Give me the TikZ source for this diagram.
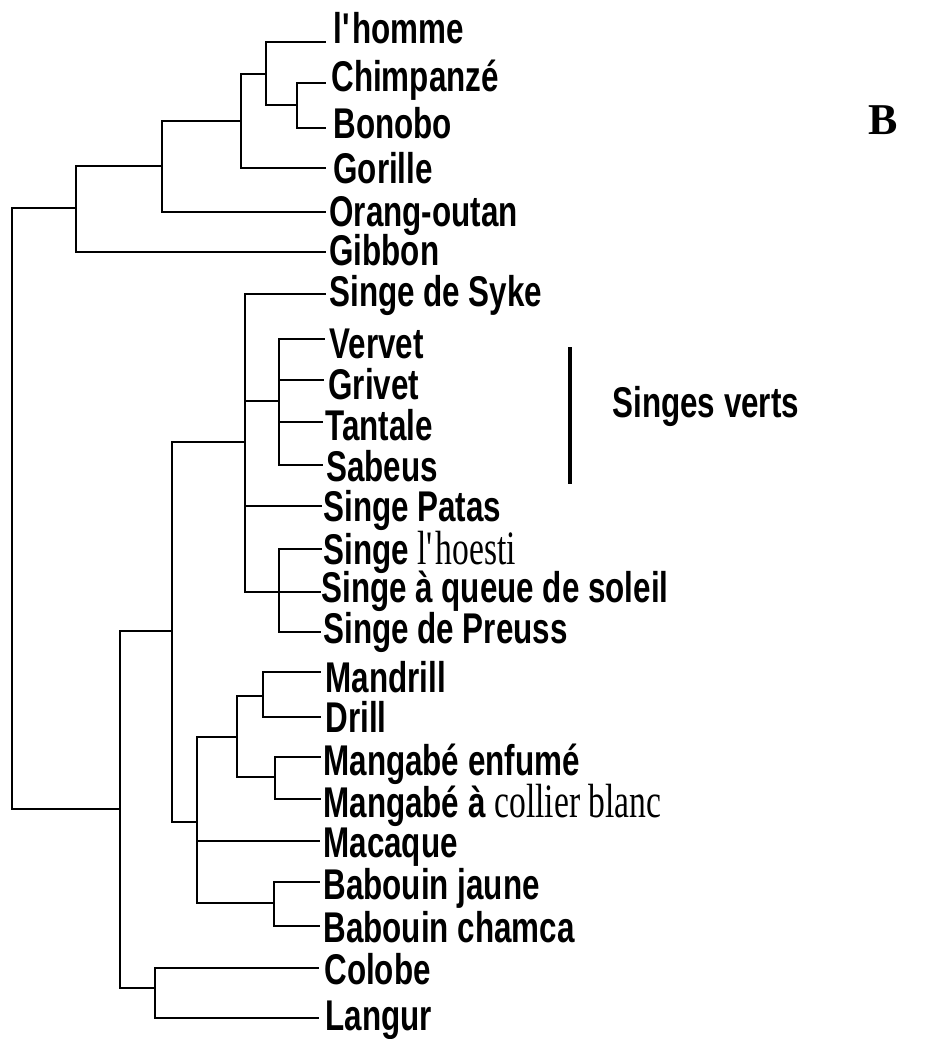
\documentclass[tikz,border=0pt]{standalone}
\usepackage{fontspec}
\setmainfont{Liberation Serif}
\newfontfamily\labsans{Liberation Sans}[FakeStretch=0.73]
\newfontfamily\labserif{Liberation Serif}[FakeStretch=0.7]

% serif words inside the labels
\newcommand{\serifpart}[1]{{\labserif\mdseries\fontsize{24}{26}\selectfont #1}}

\begin{document}
\begin{tikzpicture}[
    x=0.5pt, y=-0.5pt, % one unit = one pixel of the scan
    branch/.style={line width=1.35pt, line cap=rect}, % tree branches
    bar/.style={line width=1.6pt}, % bracket of the green monkeys
    taxon/.style={anchor=base west, inner sep=0pt, font=\labsans\bfseries\fontsize{21.5}{26}\selectfont} % leaf labels
]
    \useasboundingbox (0,0) rectangle (945,1039);

    % Leaf tips
    \coordinate (homme)    at (325,42);
    \coordinate (chimp)    at (325,83);
    \coordinate (bonobo)   at (325,128);
    \coordinate (gorille)  at (325,168);
    \coordinate (orang)    at (325,212);
    \coordinate (gibbon)   at (325,252);
    \coordinate (syke)     at (325,294);
    \coordinate (vervet)   at (324,339);
    \coordinate (grivet)   at (323,380);
    \coordinate (tantale)  at (322,422);
    \coordinate (sabeus)   at (322,465);
    \coordinate (patas)    at (321,506);
    \coordinate (hoesti)   at (321,549);
    \coordinate (queue)    at (320,592);
    \coordinate (preuss)   at (320,632);
    \coordinate (mandrill) at (320,672);
    \coordinate (drill)    at (320,717);
    \coordinate (enfume)   at (320,757);
    \coordinate (collier)  at (320,799);
    \coordinate (macaque)  at (319,841);
    \coordinate (bjaune)   at (319,882);
    \coordinate (chamca)   at (319,926);
    \coordinate (colobe)   at (318,968);
    \coordinate (langur)   at (318,1018);

    % Inner nodes of the tree
    \coordinate (pan)     at (297,105);
    \coordinate (hc)      at (266,74);
    \coordinate (hcg)     at (241,121);
    \coordinate (hom)     at (162,166);
    \coordinate (hoo)     at (76,208);
    \coordinate (root)    at (12,508);
    \coordinate (cerco)   at (120,809);
    \coordinate (cinae)   at (172,631);
    \coordinate (cini)    at (245,442);
    \coordinate (green)   at (279,401);
    \coordinate (hgrp)    at (279,592);
    \coordinate (papini)  at (197,822);
    \coordinate (mandmang) at (237,737);
    \coordinate (mandrs)  at (263,696);
    \coordinate (mangabe) at (275,777);
    \coordinate (papio)   at (274,903);
    \coordinate (colob)   at (155,988);

    % Hominoids
    \draw[branch] (pan) |- (chimp) (pan) |- (bonobo);
    \draw[branch] (hc) |- (homme) (hc) |- (pan);
    \draw[branch] (hcg) |- (hc) (hcg) |- (gorille);
    \draw[branch] (hom) |- (hcg) (hom) |- (orang);
    \draw[branch] (hoo) |- (hom) (hoo) |- (gibbon);
    \draw[branch] (root) |- (hoo) (root) |- (cerco);

    % Cercopithecids
    \draw[branch] (cerco) |- (cinae) (cerco) |- (colob);
    \draw[branch] (cinae) |- (cini) (cinae) |- (papini);
    \draw[branch] (cini) |- (syke) (cini) |- (green) (cini) |- (patas) (cini) |- (hgrp);
    \draw[branch] (green) |- (vervet) (green) |- (grivet) (green) |- (tantale) (green) |- (sabeus);
    \draw[branch] (hgrp) |- (hoesti) (hgrp) |- (queue) (hgrp) |- (preuss);
    \draw[branch] (papini) |- (mandmang) (papini) |- (macaque) (papini) |- (papio);
    \draw[branch] (mandmang) |- (mandrs) (mandmang) |- (mangabe);
    \draw[branch] (mandrs) |- (mandrill) (mandrs) |- (drill);
    \draw[branch] (mangabe) |- (enfume) (mangabe) |- (collier);
    \draw[branch] (papio) |- (bjaune) (papio) |- (chamca);
    \draw[branch] (colob) |- (colobe) (colob) |- (langur);

    % Labels
    \node[taxon] (l-homme)    at (333,43)   {l\textquotesingle homme};
    \node[taxon] (l-chimp)    at (331,91)   {Chimpanzé};
    \node[taxon] (l-bonobo)   at (333,138)  {Bonobo};
    \node[taxon] (l-gorille)  at (333,183)  {Gorille};
    \node[taxon] (l-orang)    at (329,226)  {Orang-outan};
    \node[taxon] (l-gibbon)   at (329,265)  {Gibbon};
    \node[taxon] (l-syke)     at (329,306)  {Singe de Syke};
    \node[taxon] (l-vervet)   at (329,358)  {Vervet};
    \node[taxon] (l-grivet)   at (328,399)  {Grivet};
    \node[taxon] (l-tantale)  at (325,440)  {Tantale};
    \node[taxon] (l-sabeus)   at (326,481)  {Sabeus};
    \node[taxon] (l-patas)    at (323,521)  {Singe Patas};
    \node[taxon] (l-hoesti)   at (323,564)  {Singe \serifpart{l\textquotesingle hoesti}};
    \node[taxon] (l-queue)    at (321,602)  {Singe à queue de soleil};
    \node[taxon] (l-preuss)   at (323,643)  {Singe de Preuss};
    \node[taxon] (l-mandrill) at (325,692)  {Mandrill};
    \node[taxon] (l-drill)    at (325,732)  {Drill};
    \node[taxon] (l-enfume)   at (323,775)  {Mangabé enfumé};
    \node[taxon] (l-collier)  at (323,817)  {Mangabé à \serifpart{collier blanc}};
    \node[taxon] (l-macaque)  at (323,857)  {Macaque};
    \node[taxon] (l-bjaune)   at (323,899)  {Babouin jaune};
    \node[taxon] (l-chamca)   at (323,942)  {Babouin chamca};
    \node[taxon] (l-colobe)   at (324,984)  {Colobe};
    \node[taxon] (l-langur)   at (325,1030) {Langur};

    % Green monkeys bracket
    \coordinate (sv-top) at (570,347);
    \coordinate (sv-bot) at (570,484);
    \draw[bar] (sv-top) -- (sv-bot);
    \node[taxon] (sverts) at (612,417) {Singes verts};

    % Panel letter
    \node[anchor=base west, inner sep=0pt, font=\rmfamily\bfseries\fontsize{22}{26}\selectfont] (panel) at (868,134) {B};

\end{tikzpicture}
\end{document}
